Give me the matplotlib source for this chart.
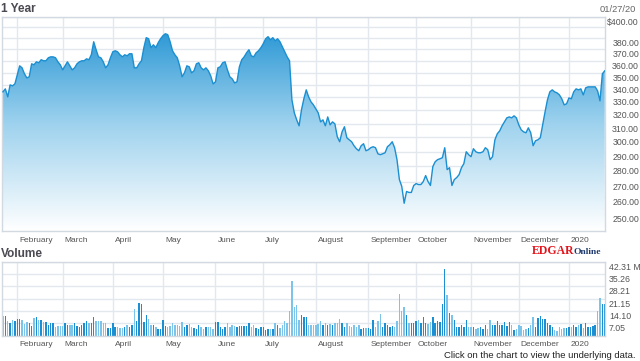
import numpy as np
import matplotlib
matplotlib.use('Agg')
import matplotlib.pyplot as plt
from matplotlib import transforms
from matplotlib.ticker import NullLocator
from matplotlib.colors import LinearSegmentedColormap

plt.rcParams['font.family'] = ['Liberation Sans', 'DejaVu Sans']

# daily closes, 24 Jan 2019 .. 27 Jan 2020 (trading days)
price = [334.4, 336.8, 330.4, 340.0, 339.2, 340.8, 348.2, 355.8, 354.1, 349.1,
         345.7, 346.6, 357.5, 356.7, 359.2, 358.4, 361.0, 360.1, 360.1, 362.7,
         363.5, 363.5, 362.7, 359.2, 356.7, 352.4, 355.8, 359.2, 355.8, 352.4,
         354.1, 357.5, 359.2, 360.1, 360.1, 361.8, 361.0, 365.3, 376.8, 369.7,
         363.5, 362.7, 359.2, 354.1, 356.7, 362.7, 367.9, 368.8, 367.9, 365.3,
         363.5, 365.3, 364.4, 366.2, 366.2, 354.1, 354.1, 357.5, 360.1, 371.5,
         380.5, 379.5, 371.5, 374.1, 371.5, 375.9, 379.5, 382.3, 384.1, 383.2,
         376.8, 368.8, 365.3, 362.7, 355.8, 346.6, 349.9, 355.8, 355.0, 349.9,
         351.6, 357.5, 358.4, 354.1, 352.4, 354.1, 351.6, 347.4, 340.8, 342.5,
         354.1, 355.0, 358.4, 359.2, 352.4, 346.6, 344.9, 341.6, 342.5, 355.0,
         361.0, 363.5, 367.0, 369.7, 364.4, 363.5, 367.0, 368.8, 371.5, 375.0,
         379.5, 381.4, 378.6, 380.5, 377.7, 379.5, 376.8, 372.3, 367.9, 363.5,
         360.1, 328.1, 318.1, 312.8, 308.4, 320.3, 328.9, 336.0, 330.4, 326.5,
         324.2, 321.1, 318.1, 311.3, 312.8, 308.4, 315.0, 309.1, 311.3, 309.8,
         300.4, 296.9, 304.0, 307.7, 299.7, 298.3, 296.9, 294.1, 292.0, 290.6,
         294.1, 295.5, 290.6, 291.3, 292.7, 293.4, 292.7, 288.5, 287.9, 288.5,
         289.2, 293.4, 294.8, 296.9, 292.7, 284.5, 271.3, 266.9, 256.4, 263.7,
         263.1, 263.1, 267.5, 268.7, 268.1, 268.1, 270.0, 273.9, 270.0, 267.5,
         279.8, 283.1, 284.5, 285.1, 285.8, 292.7, 277.8, 279.1, 267.5, 271.3,
         272.6, 274.5, 279.1, 281.8, 289.9, 287.9, 286.5, 292.0, 289.9, 289.2,
         289.2, 289.9, 292.7, 291.3, 284.5, 286.5, 298.3, 302.6, 304.7, 308.4,
         311.3, 314.3, 315.0, 314.3, 315.8, 314.3, 309.1, 305.5, 304.0, 303.3,
         306.9, 303.3, 294.1, 297.6, 298.3, 299.7, 309.1, 318.8, 328.1, 334.4,
         336.0, 334.4, 333.6, 332.0, 328.9, 324.2, 325.0, 329.6, 328.9, 334.4,
         336.8, 336.0, 336.8, 332.0, 337.6, 338.4, 338.4, 338.4, 338.4, 335.2,
         327.3, 349.1, 351.6]

# volume, millions
volume = [11.2, 11.2, 8.6, 7.4, 9.0, 8.4, 9.5, 9.3, 9.0, 6.7,
          8.0, 7.4, 5.5, 9.9, 10.7, 9.0, 9.0, 7.6, 8.0, 6.1,
          7.1, 7.4, 5.1, 5.5, 5.7, 5.5, 7.4, 6.1, 6.1, 6.1,
          7.1, 5.5, 5.1, 6.1, 7.1, 8.6, 7.1, 7.1, 10.5, 8.6,
          8.6, 8.6, 7.4, 7.4, 4.4, 4.4, 7.1, 5.1, 4.8, 4.2,
          4.2, 4.8, 5.9, 4.8, 6.3, 15.2, 8.4, 18.5, 18.1, 7.8,
          11.6, 9.7, 6.3, 5.9, 5.1, 4.0, 4.0, 9.0, 5.5, 4.8,
          5.5, 7.1, 6.3, 6.3, 5.5, 8.0, 4.8, 6.3, 6.7, 4.8,
          4.4, 3.6, 5.9, 5.1, 4.0, 4.8, 5.1, 4.8, 4.0, 8.0,
          8.0, 4.8, 4.0, 4.8, 7.4, 4.8, 6.1, 5.5, 5.1, 5.5,
          5.5, 5.5, 5.5, 7.4, 4.8, 6.1, 4.2, 4.0, 4.8, 4.8,
          3.2, 4.0, 4.0, 4.0, 7.1, 6.1, 4.4, 6.3, 8.2, 7.1,
          13.9, 31.1, 16.6, 17.3, 9.0, 11.6, 10.9, 10.7, 5.9, 5.9,
          5.9, 5.9, 6.7,
          8.4, 6.1, 7.1, 5.9, 6.7, 5.9, 7.4, 7.1, 9.3, 7.1,
          4.8, 7.4, 5.5, 4.8, 5.9, 4.8, 6.1, 4.0, 4.2, 4.2,
          4.2, 4.0, 9.0, 4.8, 8.2, 12.4, 5.1, 7.1, 6.1, 4.8,
          5.5, 4.8, 8.2, 23.8, 14.1, 16.2, 11.6, 7.4, 7.4, 7.1,
          8.6, 9.0, 7.4, 10.9, 7.1, 6.7, 8.0, 10.5, 7.4, 8.6,
          7.6, 18.1, 38.1, 23.3, 12.8, 11.8, 9.0, 4.8, 4.8, 5.9,
          4.8, 9.0, 5.1, 5.1, 4.8, 3.6, 4.2, 5.1, 4.0, 6.1,
          4.0, 9.0, 6.3, 6.3, 8.2, 6.3, 5.9, 7.8, 5.5, 7.8,
          5.9, 3.2, 3.6, 5.9, 5.5, 3.2, 4.0, 4.4, 6.3, 10.5,
          4.8, 10.1, 11.2, 9.5, 9.5, 7.1, 6.3, 5.1, 3.2, 2.9,
          5.1, 4.0, 4.4, 4.4, 5.1, 4.8, 5.9, 4.8, 5.9, 6.7,
          4.4, 7.1, 4.8, 5.1, 5.5, 5.9, 14.3, 21.3, 18.1, 18.1]

month_idx = [6, 25, 46, 67, 89, 109, 131, 153, 173, 196, 216, 237]
month_names = ['February', 'March', 'April', 'May', 'June', 'July', 'August',
               'September', 'October', 'November', 'December', '2020']

price_grid = list(range(250, 401, 10))
price_labels = [400, 380, 370, 360, 350, 340, 330, 320, 310, 300, 290, 280, 270, 260, 250]
vol_ticks = [0, 7.05, 14.10, 21.15, 28.21, 35.26, 42.31]

W, H = 640, 361
fig = plt.figure(figsize=(6.4, 3.61), dpi=100)
ax = fig.add_axes([2 / W, 1 - 231 / H, 603 / W, (231 - 16.7) / H])
vx = fig.add_axes([2 / W, 1 - 335.7 / H, 603 / W, 74 / H])

grid_c = '#e3e7ee'
edge_c = '#d3d9e1'
lab_c = '#555555'
line_c = '#1b8fd1'

x = np.arange(len(price))

# price area with vertical gradient
ax.set_yscale('log')
fill = ax.fill_between(x, price, 200, color='none', lw=0)
cmap = LinearSegmentedColormap.from_list('g', ['#ffffff', '#9ed2ee', '#1a8fd1'])
grad = np.linspace(0, 1, 256).reshape(-1, 1)
im = ax.imshow(grad, extent=[0, 1, 0, 1], transform=ax.transAxes, origin='lower',
               cmap=cmap, aspect='auto', zorder=1, interpolation='bilinear')
im.set_clip_path(fill.get_paths()[0], transform=ax.transData)
ax.plot(x, price, color=line_c, lw=1, zorder=3)

ax.set_xlim(-0.4, 252.1)
ax.set_ylim(240, 400)
ax.set_yticks(price_grid)
ax.yaxis.set_minor_locator(NullLocator())
ax.set_yticklabels([])

# volume bars
colors = [line_c if i > 0 and price[i] >= price[i - 1] else '#7cc4ea' for i in range(len(price))]
vx.bar(x, volume, width=0.6, color=colors, zorder=2)
vx.set_xlim(-0.4, 252.1)
vx.set_ylim(0, 42.31)
vx.set_yticks(vol_ticks)
vx.set_yticklabels([])

shift = transforms.ScaledTranslation(2 / 100, 0, fig.dpi_scale_trans)
for a in (ax, vx):
    a.set_axisbelow(True)
    a.grid(True, color=grid_c, lw=1)
    a.set_xticks(month_idx)
    a.set_xticklabels(month_names, ha='left')
    a.tick_params(length=0, pad=4, labelsize=6, labelcolor=lab_c)
    for lbl in a.get_xticklabels():
        lbl.set_transform(lbl.get_transform() + shift)
    for s in a.spines.values():
        s.set_color(edge_c)
        s.set_linewidth(1)

down = transforms.ScaledTranslation(0, -1 / 100, fig.dpi_scale_trans)
tr = transforms.blended_transform_factory(ax.transAxes, ax.transData) + down
for v in price_labels:
    txt = ('$%.2f' if v == 400 else '%.2f') % v
    ax.text((639 - 2) / 603, v, txt, transform=tr, ha='right', va='top',
            fontsize=6.3, color=lab_c)

trv = transforms.blended_transform_factory(vx.transAxes, vx.transData) + down
for v in vol_ticks[1:]:
    txt = '%.2f M' % v if v == vol_ticks[-1] else '%.2f' % v
    vx.text((609 - 2) / 603, v, txt, transform=trv, ha='left', va='top',
            fontsize=6.3, color=lab_c)

fig.text(1 / W, 1 - 9.5 / H, '1 Year', fontsize=8.6, weight='bold', color='#4a4a52', va='center')
fig.text(1 / W, 1 - 254 / H, 'Volume', fontsize=8.6, weight='bold', color='#4a4a52', va='center')
fig.text(636 / W, 1 - 10 / H, '01/27/20', fontsize=6.7, color='#666666', ha='right', va='center')
fig.text(532 / W, 1 - 254 / H, 'EDGAR', fontsize=8.5, weight='bold', color='#e3141c',
         family='Liberation Serif', va='baseline')
fig.text(573 / W, 1 - 254 / H, 'Online', fontsize=6.8, weight='bold', color='#1f3a6e',
         family='Liberation Serif', va='baseline')
fig.text(635 / W, 1 - 355 / H, 'Click on the chart to view the underlying data.',
         fontsize=6.8, color='#222222', ha='right', va='center')

fig.savefig('out.png', dpi=100)
